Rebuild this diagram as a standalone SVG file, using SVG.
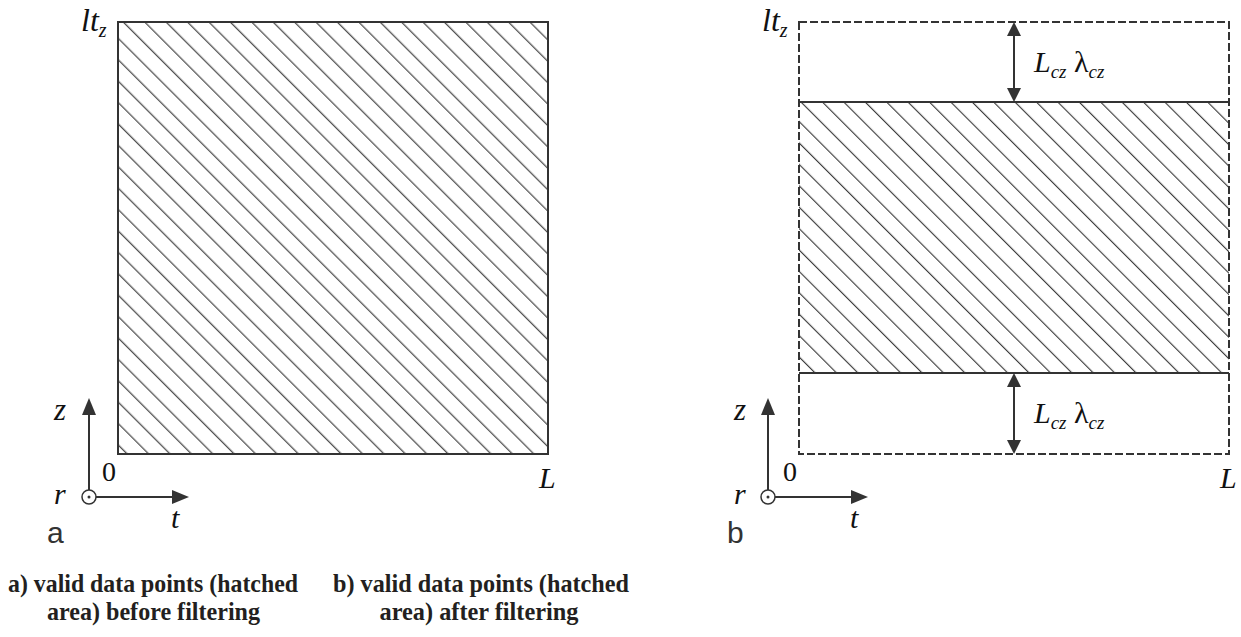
<svg xmlns="http://www.w3.org/2000/svg" width="1241" height="637" viewBox="0 0 1241 637">
<style>
.box{fill:none;stroke:#333;stroke-width:2}
.dash{fill:none;stroke:#333;stroke-width:2;stroke-dasharray:8 3}
.ax{fill:none;stroke:#333;stroke-width:2}
.m{font-family:"Liberation Serif",serif;font-style:italic;fill:#111}
.n{font-family:"Liberation Serif",serif;fill:#111}
.s{font-family:"Liberation Sans",sans-serif;fill:#333}
.cap{font-family:"Liberation Serif",serif;font-weight:bold;font-size:25px;fill:#231f20}
</style>
<defs>
<pattern id="hatchA" patternUnits="userSpaceOnUse" width="40" height="15.132" patternTransform="rotate(45)">
<rect x="0" y="3.48" width="40" height="1.1" fill="#333"/>
</pattern>
<pattern id="hatchB" patternUnits="userSpaceOnUse" width="40" height="15.132" patternTransform="rotate(45)">
<rect x="0" y="4.54" width="40" height="1.1" fill="#333"/>
</pattern>
<marker id="ahAx" viewBox="0 0 17 14" refX="9" refY="7" markerWidth="17" markerHeight="14" markerUnits="userSpaceOnUse" orient="auto-start-reverse">
<path d="M0,0 L17,7 L0,14 z" fill="#333"/>
</marker>
<marker id="ahDim" viewBox="0 0 14 14" refX="7" refY="7" markerWidth="14" markerHeight="14" markerUnits="userSpaceOnUse" orient="auto-start-reverse">
<path d="M0,0 L14,7 L0,14 z" fill="#333"/>
</marker>
</defs>

<!-- Panel a -->
<g id="panel-a">
<rect x="118" y="22" width="430" height="432" fill="url(#hatchA)"/>
<rect class="box" x="118" y="22" width="430" height="432"/>
<text class="m" x="81" y="31" font-size="32">lt<tspan font-size="20" dy="6">z</tspan></text>
<text class="n" x="102" y="481" font-size="28">0</text>
<text class="m" x="539" y="488" font-size="30">L</text>
</g>
<g id="axes-a">
<line class="ax" x1="89" y1="490" x2="89" y2="406" marker-end="url(#ahAx)"/>
<line class="ax" x1="96" y1="497" x2="181" y2="497" marker-end="url(#ahAx)"/>
<circle cx="89" cy="497" r="7" fill="#fff" stroke="#333" stroke-width="1.5"/>
<circle cx="89" cy="497" r="1.5" fill="#333"/>
<text class="m" x="54" y="420" font-size="31">z</text>
<text class="m" x="54" y="504" font-size="30">r</text>
<text class="m" x="171" y="528" font-size="30">t</text>
<text class="s" x="47" y="543" font-size="30">a</text>
</g>

<!-- Panel b -->
<g id="panel-b">
<rect x="799" y="102" width="430" height="271" fill="url(#hatchB)"/>
<rect class="dash" x="799" y="22" width="430" height="432"/>
<line class="box" x1="799" y1="102" x2="1229" y2="102"/>
<line class="box" x1="799" y1="373" x2="1229" y2="373"/>
<text class="m" x="762" y="31" font-size="32">lt<tspan font-size="20" dy="6">z</tspan></text>
<text class="n" x="783" y="481" font-size="28">0</text>
<text class="m" x="1220" y="488" font-size="30">L</text>
</g>
<g id="axes-b">
<line class="ax" x1="768" y1="490" x2="768" y2="406" marker-end="url(#ahAx)"/>
<line class="ax" x1="775" y1="497" x2="860" y2="497" marker-end="url(#ahAx)"/>
<circle cx="768" cy="497" r="7" fill="#fff" stroke="#333" stroke-width="1.5"/>
<circle cx="768" cy="497" r="1.5" fill="#333"/>
<text class="m" x="734" y="420" font-size="31">z</text>
<text class="m" x="734" y="504" font-size="30">r</text>
<text class="m" x="850" y="528" font-size="30">t</text>
<text class="s" x="727" y="543" font-size="30">b</text>
</g>

<g id="connectors">
<line class="ax" x1="1014" y1="29" x2="1014" y2="95" marker-start="url(#ahDim)" marker-end="url(#ahDim)"/>
<line class="ax" x1="1014" y1="380" x2="1014" y2="447" marker-start="url(#ahDim)" marker-end="url(#ahDim)"/>
</g>
<g id="label-top">
<text class="m" x="1034" y="72" font-size="30">L<tspan font-size="19" dy="6">cz</tspan><tspan dy="-6"> </tspan><tspan font-style="normal">λ</tspan><tspan font-size="19" dy="6">cz</tspan></text>
</g>
<g id="label-bottom">
<text class="m" x="1034" y="423" font-size="30">L<tspan font-size="19" dy="6">cz</tspan><tspan dy="-6"> </tspan><tspan font-style="normal">λ</tspan><tspan font-size="19" dy="6">cz</tspan></text>
</g>

<g id="captions">
<text class="cap" x="153" y="592" text-anchor="middle" textLength="290" lengthAdjust="spacingAndGlyphs">a) valid data points (hatched</text>
<text class="cap" x="153.5" y="620" text-anchor="middle" textLength="213" lengthAdjust="spacingAndGlyphs">area) before filtering</text>
<text class="cap" x="481" y="592" text-anchor="middle" textLength="296" lengthAdjust="spacingAndGlyphs">b) valid data points (hatched</text>
<text class="cap" x="479" y="620" text-anchor="middle" textLength="199" lengthAdjust="spacingAndGlyphs">area) after filtering</text>
</g>
</svg>
